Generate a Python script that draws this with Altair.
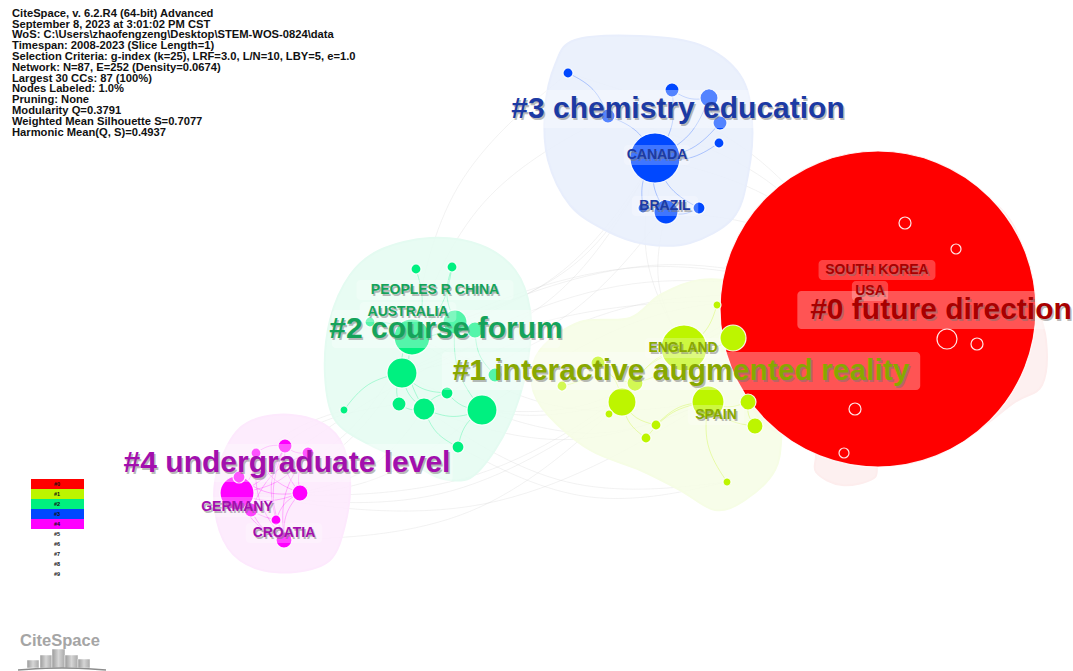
import altair as alt
import pandas as pd

W, H = 1073, 671
FONT = "Liberation Sans"

# ---------------- header block ----------------
info_lines = [
    "CiteSpace, v. 6.2.R4 (64-bit) Advanced",
    "September 8, 2023 at 3:01:02 PM CST",
    "WoS: C:\\Users\\zhaofengzeng\\Desktop\\STEM-WOS-0824\\data",
    "Timespan: 2008-2023 (Slice Length=1)",
    "Selection Criteria: g-index (k=25), LRF=3.0, L/N=10, LBY=5, e=1.0",
    "Network: N=87, E=252 (Density=0.0674)",
    "Largest 30 CCs: 87 (100%)",
    "Nodes Labeled: 1.0%",
    "Pruning: None",
    "Modularity Q=0.3791",
    "Weighted Mean Silhouette S=0.7077",
    "Harmonic Mean(Q, S)=0.4937",
]

# ---------------- clusters ----------------
cluster_ids = [0, 1, 2, 3, 4]
cluster_names = [
    "#0 future direction",
    "#1 interactive augmented reality",
    "#2 course forum",
    "#3 chemistry education",
    "#4 undergraduate level",
]
cluster_label_x = [941, 681, 446, 678, 287]
cluster_label_y = [310, 371, 329, 109, 463]
cluster_node_color = ["#ff0000", "#bdf500", "#00f080", "#0048ff", "#ff00ff"]
cluster_hull_color = ["#fdeded", "#f6fde5", "#e4fbf1", "#e8eefc", "#fde9fd"]
cluster_text_color = ["#a80000", "#88a800", "#15a35a", "#1c3aa4", "#a20fae"]

# ---------------- nodes (countries) ----------------
node_x = [878, 905, 956, 947, 977, 855, 844,
          684, 733, 717, 622, 708, 748, 755, 656, 646, 609, 562, 598, 635, 727,
          416, 452, 412, 455, 475, 402, 447, 399, 424, 482, 344, 458, 370, 495,
          655, 666, 699, 643, 568, 672, 709, 720, 719, 608,
          285, 256, 308, 239, 237, 300, 251, 276, 284]
node_y = [309, 223, 249, 339, 344, 409, 453,
          348, 338, 305, 402, 402, 402, 426, 425, 438, 414, 386, 363, 383, 482,
          269, 267, 337, 322, 330, 373, 393, 404, 409, 410, 410, 447, 322, 375,
          158, 212, 208, 208, 73, 90, 98, 123, 143, 116,
          446, 453, 453, 477, 493, 493, 510, 520, 540]
node_r = [158, 6, 5, 10, 6, 6, 5,
          23, 13, 4, 14, 16, 8, 8, 5, 5, 4, 5, 7, 8, 4,
          5, 5, 18, 12, 8, 15, 6, 7, 11, 15, 4, 6, 5, 7,
          25, 12, 6, 5, 5, 7, 9, 7, 5, 7,
          7, 5, 6, 6, 17, 8, 7, 5, 8]
node_cluster = [0] * 7 + [1] * 14 + [2] * 14 + [3] * 10 + [4] * 9

# labelled nodes
node_label_text = ["SOUTH KOREA", "USA", "ENGLAND", "SPAIN", "PEOPLES R CHINA",
                   "AUSTRALIA", "CANADA", "BRAZIL", "GERMANY", "CROATIA"]
node_label_x = [877, 870, 683, 716, 435, 408, 657, 665, 237, 284]
node_label_y = [270, 291, 348, 415, 290, 312, 155, 206, 507, 533]
node_label_cluster = [0, 0, 1, 1, 2, 2, 3, 3, 4, 4]

# ---------------- links ----------------
intra_src = [35, 35, 35, 35, 35, 35, 35, 35, 44, 40, 41, 36,
             23, 23, 23, 23, 23, 26, 26, 26, 24, 24, 29, 27, 26, 29, 30, 23, 25, 22, 28, 27,
             7, 7, 7, 7, 7, 10, 10, 10, 11, 11, 11, 11, 11, 17, 18, 19, 10, 12,
             49, 49, 49, 49, 49, 49, 49, 49, 45, 45, 45, 45, 46, 47, 47, 50, 50, 48, 51, 46, 45, 47]
intra_dst = [36, 37, 38, 40, 41, 42, 43, 44, 39, 41, 42, 37,
             21, 22, 24, 26, 29, 28, 29, 27, 25, 30, 30, 30, 31, 32, 32, 33, 34, 24, 29, 29,
             8, 9, 11, 10, 19, 14, 16, 18, 12, 13, 14, 15, 20, 18, 19, 7, 15, 13,
             45, 46, 47, 48, 50, 51, 52, 53, 46, 47, 50, 53, 50, 50, 53, 52, 53, 50, 53, 53, 52, 51]
inter_src = [0, 0, 0, 0, 0, 0, 0, 0, 0, 0, 0, 0, 23, 26, 24, 23, 26, 30, 30, 49,
             49, 49, 49, 35, 36, 44, 39, 53, 50, 29, 28, 31, 26, 29, 32, 0, 0, 23, 49, 49]
inter_dst = [7, 11, 8, 10, 23, 26, 30, 24, 35, 36, 49, 29, 35, 35, 35, 7, 10, 11, 7, 26,
             23, 30, 10, 7, 7, 23, 23, 10, 29, 11, 49, 49, 36, 20, 20, 44, 39, 11, 7, 11]

# ---------------- hull outlines ----------------
hull_x = {
    0: [878, 950, 1010, 1032, 1046, 1042, 1015, 960, 885, 874, 842, 816, 812, 760, 735, 745, 800],
    1: [540, 580, 630, 660, 700, 745, 775, 785, 782, 775, 745, 715, 680, 640, 590, 548, 532],
    2: [380, 430, 480, 515, 530, 528, 515, 495, 470, 440, 410, 370, 335, 325, 330, 350],
    3: [575, 640, 700, 740, 752, 748, 733, 690, 645, 605, 570, 548, 545, 555],
    4: [240, 275, 315, 340, 350, 345, 330, 295, 255, 228, 215, 218],
}
hull_y = {
    0: [160, 175, 220, 290, 340, 385, 402, 440, 456, 478, 485, 472, 447, 420, 340, 240, 180],
    1: [350, 322, 318, 295, 280, 285, 310, 370, 430, 470, 500, 510, 490, 470, 450, 415, 385],
    2: [250, 238, 245, 270, 310, 360, 410, 450, 478, 478, 462, 445, 420, 375, 320, 275],
    3: [40, 36, 45, 75, 120, 175, 218, 243, 244, 230, 205, 160, 110, 65],
    4: [428, 415, 420, 440, 480, 525, 560, 572, 568, 548, 510, 468],
}

# ---------------- legend & logo ----------------
legend_labels = ["#0", "#1", "#2", "#3", "#4", "#5", "#6", "#7", "#8", "#9"]
logo_bar_left = [27, 40, 52, 65, 78]
logo_bar_right = [39, 52, 65, 78, 90]
logo_bar_top = [660, 655, 649, 655, 659]

# =====================================================================
xs = alt.Scale(domain=[0, W], nice=False, zero=False)
ys = alt.Scale(domain=[0, H], nice=False, zero=False, reverse=True)


def X(f):
    return alt.X(f, type="quantitative", scale=xs, axis=None)


def Y(f):
    return alt.Y(f, type="quantitative", scale=ys, axis=None)


nodes = pd.DataFrame({"x": node_x, "y": node_y, "r": node_r, "c": node_cluster})
nodes["col"] = [cluster_node_color[c] for c in nodes["c"]]
nodes = nodes.sort_values("r", ascending=False).reset_index(drop=True)
nodes["rank"] = range(len(nodes))


def link_frame(src, dst, colour_of):
    rows = []
    for k, (a, b) in enumerate(zip(src, dst)):
        x0, y0, x1, y1 = node_x[a], node_y[a], node_x[b], node_y[b]
        dx, dy = x1 - x0, y1 - y0
        cx, cy = (x0 + x1) / 2 - dy * 0.18, (y0 + y1) / 2 + dx * 0.18
        for i, (px, py) in enumerate([(x0, y0), (cx, cy), (x1, y1)]):
            rows.append({"e": k, "i": i, "x": px, "y": py, "col": colour_of(a)})
    return pd.DataFrame(rows)


inter = link_frame(inter_src, inter_dst, lambda a: "#d4d4d4")
intra = link_frame(intra_src, intra_dst, lambda a: cluster_node_color[node_cluster[a]])

layers = []

# faint links between clusters
layers.append(
    alt.Chart(inter).mark_line(interpolate="basis", strokeWidth=1, opacity=0.3).encode(
        x=X("x"), y=Y("y"), detail="e:N", order="i:Q", color=alt.Color("col:N", scale=None)
    )
)

# cluster hulls
for c in [0, 3, 2, 1, 4]:
    hdf = pd.DataFrame({"x": hull_x[c], "y": hull_y[c], "i": range(len(hull_x[c]))})
    layers.append(
        alt.Chart(hdf).mark_line(
            interpolate="cardinal-closed", fill=cluster_hull_color[c], fillOpacity=0.85,
            stroke=cluster_hull_color[c], strokeWidth=2, strokeOpacity=1,
        ).encode(x=X("x"), y=Y("y"), order="i:Q")
    )

# links inside clusters
layers.append(
    alt.Chart(intra).mark_line(interpolate="basis", strokeWidth=1, opacity=0.28).encode(
        x=X("x"), y=Y("y"), detail="e:N", order="i:Q", color=alt.Color("col:N", scale=None)
    )
)

# nodes (symbol size is the square of the diameter)
layers.append(
    alt.Chart(nodes).transform_calculate(area="4 * datum.r * datum.r").mark_circle(
        opacity=1, stroke="white", strokeWidth=1.2, strokeOpacity=0.9
    ).encode(
        x=X("x"), y=Y("y"), size=alt.Size("area:Q", scale=None),
        color=alt.Color("col:N", scale=None), order="rank:Q",
    )
)

# translucent boxes behind labels
cl = pd.DataFrame({"t": cluster_names, "x": cluster_label_x, "y": cluster_label_y, "c": cluster_ids})
cl["col"] = [cluster_text_color[c] for c in cl["c"]]
cl["hw"] = cl["t"].str.len() * 30 * 0.245 + 4
cl["x0"], cl["x1"] = cl["x"] - cl["hw"], cl["x"] + cl["hw"]
cl["y0"], cl["y1"] = cl["y"] - 19, cl["y"] + 19

nl = pd.DataFrame({"t": node_label_text, "x": node_label_x, "y": node_label_y, "c": node_label_cluster})
nl["col"] = [cluster_text_color[c] for c in nl["c"]]
nl["hw"] = nl["t"].str.len() * 14 * 0.36 + 3
nl["x0"], nl["x1"] = nl["x"] - nl["hw"], nl["x"] + nl["hw"]
nl["y0"], nl["y1"] = nl["y"] - 10, nl["y"] + 10

for df, op in [(nl, 0.25), (cl, 0.33)]:
    layers.append(
        alt.Chart(df).mark_rect(fill="white", opacity=op, cornerRadius=4).encode(
            x=X("x0"), x2="x1", y=Y("y0"), y2="y1"
        )
    )

# labels with a soft drop shadow
for df, fs in [(nl, 14), (cl, 30)]:
    layers.append(
        alt.Chart(df).mark_text(font=FONT, fontSize=fs, fontWeight="bold", color="#777",
                                opacity=0.5, dx=1.5, dy=1.5).encode(x=X("x"), y=Y("y"), text="t:N")
    )
    layers.append(
        alt.Chart(df).mark_text(font=FONT, fontSize=fs, fontWeight="bold").encode(
            x=X("x"), y=Y("y"), text="t:N", color=alt.Color("col:N", scale=None)
        )
    )

# header text
info = pd.DataFrame({"t": info_lines, "k": range(len(info_lines))})
layers.append(
    alt.Chart(info).transform_calculate(x="12", y="13.8 + 10.8 * datum.k").mark_text(
        font=FONT, fontSize=11.2, fontWeight="bold", align="left", baseline="middle", color="#111"
    ).encode(x=X("x"), y=Y("y"), text="t:N")
)

# cluster colour key
leg = pd.DataFrame({"t": legend_labels, "k": range(len(legend_labels))})
leg["col"] = [cluster_node_color[k] if k < 5 else "white" for k in leg["k"]]
leg = leg.assign(x0=31, x1=84, y0=479 + 10 * leg["k"], y1=489 + 10 * leg["k"])
leg["y"] = leg["y0"] + 5
leg["x"] = 57
layers.append(
    alt.Chart(leg[leg["k"] < 5]).mark_rect().encode(
        x=X("x0"), x2="x1", y=Y("y0"), y2="y1", color=alt.Color("col:N", scale=None)
    )
)
layers.append(
    alt.Chart(leg).mark_text(font=FONT, fontSize=5.5, fontWeight="bold", color="#111").encode(
        x=X("x"), y=Y("y"), text="t:N"
    )
)

# CiteSpace logo
logo = pd.DataFrame({"x0": logo_bar_left, "x1": logo_bar_right, "y0": logo_bar_top})
logo["y1"] = 668
layers.append(
    alt.Chart(logo).mark_rect(
        stroke="white", strokeWidth=0.5,
        fill=alt.Gradient(gradient="linear", x1=0, y1=0, x2=1, y2=0,
                          stops=[alt.GradientStop(offset=0, color="#9a9a9a"),
                                 alt.GradientStop(offset=0.5, color="#d6d6d6"),
                                 alt.GradientStop(offset=1, color="#a8a8a8")]),
    ).encode(x=X("x0"), x2="x1", y=Y("y0"), y2="y1")
)
layers.append(
    alt.Chart(pd.DataFrame({"x": [18, 62, 106], "y": [670, 667, 670], "i": [0, 1, 2]}))
    .mark_line(interpolate="basis", color="#8c8c8c", strokeWidth=1.5)
    .encode(x=X("x"), y=Y("y"), order="i:Q")
)
layers.append(
    alt.Chart(pd.DataFrame({"t": ["CiteSpace"], "x": [60], "y": [641]})).mark_text(
        font=FONT, fontSize=16.5, fontWeight="bold", color="#a5a5a5"
    ).encode(x=X("x"), y=Y("y"), text="t:N")
)

chart = (
    alt.layer(*layers)
    .properties(width=W, height=H, padding=0, background="white",
                autosize=alt.AutoSizeParams(type="none"))
    .configure_view(stroke=None)
)

chart.save("out.html", embed_options={"renderer": "svg", "actions": False})
